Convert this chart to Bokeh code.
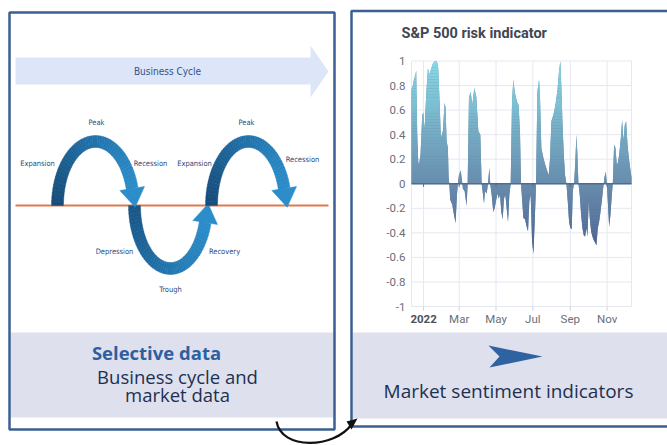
import math
import numpy as np
from bokeh.plotting import figure
from bokeh.models import Range1d
from bokeh.core.properties import value
from bokeh.embed import file_html
from bokeh.resources import INLINE

# ---------------- data: S&P 500 risk indicator ----------------
# day offset from 2022-01-01
day_offset = [-20, -17.7, -16, -14, -12.2, -10.5, -8.8, -7.7, -5, -2.2, -0.5, 1.7, 4.4, 7.2, 10, 12.2,
              15.5, 18.8, 22.1, 24.3, 26.5, 28.7, 32, 34.8, 36.5, 38.1, 40.3, 41.5, 42.6, 44.2, 47.5,
              50.3, 53, 55.3, 56.9, 58.6, 61.4, 63, 65.2, 68, 71.3, 73, 75.2, 78, 80.7, 84, 87.3, 90.7,
              94, 96.2, 97.3, 100.1, 101.7, 104.5, 106.7, 108.9, 110.6, 112.8, 115.5, 117.7, 120,
              122.2, 124.4, 126.6, 128.8, 131, 133.2, 135.4, 137.6, 139.9, 142.1, 144.3, 146.5, 148.7,
              150.9, 153.1, 155.3, 157.5, 159.8, 161.4, 163.1, 165.3, 168, 170.8, 173, 175.2, 177.4,
              179.7, 181.9, 184.1, 186.3, 188.5, 191.3, 192.9, 195.1, 198.5, 201.8, 205.1, 207.3,
              209.5, 211.7, 215, 218.4, 221.7, 224.4, 226.6, 228.3, 230, 232.2, 234.4, 236.6, 238.8,
              241, 243.2, 245.4, 247.1, 249.3, 251, 253.2, 254.8, 256.5, 258.7, 260.9, 263.1, 265.3,
              267.5, 269.8, 271.4, 273.6, 275.3, 277.5, 279.7, 281.9, 284.1, 286.3, 288.6, 290.8,
              293, 295.2, 297.4, 299.6, 301.8, 303.5, 305.1, 307.4, 309.6, 311.8, 313.4, 315.6,
              317.9, 320.1, 322.3, 324.5, 326.7, 328.9, 331.1, 333.3, 335.5, 337.8, 340, 342.2, 344.4]
risk = [0.77, 0.80, 0.85, 0.88, 0.92, 0.40, 0.18, 0.15, 0.24, 0.56, 0.58, 0.44, 0.73, 0.94, 0.89, 0.93,
        0.98, 1.00, 1.00, 0.94, 0.67, 0.37, 0.43, 0.66, 0.62, 0.35, 0.29, 0.05, 0.0, -0.13, -0.17,
        -0.25, -0.32, -0.09, 0.0, 0.07, 0.11, 0.05, -0.04, -0.06, -0.18, 0.0, 0.70, 0.75, 0.64, 0.78, 0.71, 0.43,
        0.40, 0.0, -0.04, -0.16, -0.06, -0.08, 0.0, 0.13, -0.01, -0.09, -0.23, -0.20, -0.14,
        -0.08, -0.12, -0.09, -0.23, -0.29, -0.12, -0.09, -0.20, -0.31, -0.09, 0.0, 0.67, 0.85,
        0.75, 0.70, 0.66, 0.64, 0.40, 0.0, -0.12, -0.28, -0.29, -0.35, -0.39, -0.14, -0.09,
        -0.47, -0.57, -0.31, 0.0, 0.75, 0.85, 0.70, 0.29, 0.21, 0.15, 0.10, 0.07,
        0.21, 0.51, 0.56, 0.64, 0.76, 0.92, 1.0, 0.78, 0.51, 0.24, 0.07, 0.0, -0.14,
        -0.31, -0.36, -0.37, -0.06, 0.0, 0.15, 0.40, 0.24, 0.0, -0.09, -0.25, -0.36, -0.42,
        -0.43, -0.36, -0.43, -0.14, -0.28, -0.39, -0.43, -0.46, -0.48, -0.50, -0.36, -0.31,
        -0.23, -0.14, -0.04, 0.05, 0.10, 0.0, -0.14, -0.35, -0.25, -0.09, 0.0, 0.32,
        0.29, 0.15, 0.18, 0.26, 0.37, 0.52, 0.35, 0.48, 0.51, 0.32, 0.21, 0.13, 0.05]

month_days = [0, 59, 120, 181, 243, 304]
month_labels = ["2022", "Mar", "May", "Jul", "Sep", "Nov"]
y_ticks = [1, 0.8, 0.6, 0.4, 0.2, 0, -0.2, -0.4, -0.6, -0.8, -1]
y_tick_labels = ["1", "0.8", "0.6", "0.4", "0.2", "0", "-0.2", "-0.4", "-0.6", "-0.8", "-1"]

chart_title = "S&P 500 risk indicator"

# ---------------- texts of the infographic ----------------
cycle_banner = "Business Cycle"
cycle_words = ["Peak", "Expansion", "Recession", "Expansion", "Peak", "Recession", "Depression", "Recovery", "Trough"]
cycle_word_x = [96, 37, 150, 194, 246, 302, 114, 224, 170]
cycle_word_y = [122, 163, 163, 163, 122, 159, 251, 251, 289]

left_heading = "Selective data"
left_lines = ["Business cycle and", "market data"]
right_line = "Market sentiment indicators"

# ---------------- canvas (screen-pixel coordinates) ----------------
W, H = 667, 445
X0, X1 = 0, W
Y0, Y1 = 0, H
p = figure(width=W, height=H, x_range=Range1d(X0, X1), y_range=Range1d(Y1, Y0),
           x_axis_type=None, y_axis_type=None, toolbar_location=None,
           output_backend="svg", min_border=0, outline_line_color=None,
           background_fill_color="white", border_fill_color="white")
for g in p.grid:
    g.visible = False

# chart box placement on the canvas
BX0, BX1 = 411.0, 631.0
BY_TOP, BY_BOT = 60.5, 306.0
d0, d1 = day_offset[0], day_offset[-1]
sx = (BX1 - BX0) / (d1 - d0)
sy = (BY_BOT - BY_TOP) / 2.0
p.extra_x_ranges = {"day": Range1d(d0 - (BX0 - X0) / sx, d1 + (X1 - BX1) / sx)}
p.extra_y_ranges = {"risk": Range1d(-1 - (Y1 - BY_BOT) / sy, 1 + (BY_TOP - Y0) / sy)}
CR = dict(x_range_name="day", y_range_name="risk")

NARROW = value("DejaVu Sans Condensed")


def hexc(c):
    return "#%02x%02x%02x" % tuple(int(round(v)) for v in c)


def lerp(c0, c1, t):
    t = min(max(t, 0.0), 1.0)
    return tuple(a + (b - a) * t for a, b in zip(c0, c1))


# ---------------- panels ----------------
LAV = "#dfe0ee"
p.quad(left=[10], right=[333], top=[332], bottom=[417], fill_color=LAV, line_color=None)
p.quad(left=[352], right=[670], top=[332], bottom=[418], fill_color=LAV, line_color=None)

BORDER = "#3b5f93"
p.quad(left=[9], right=[334], top=[12], bottom=[429], fill_color=None, line_color=BORDER, line_width=2.5)
p.quad(left=[351], right=[680], top=[10.5], bottom=[426], fill_color=None, line_color=BORDER, line_width=2.5)

# ---------------- business cycle diagram ----------------
p.patch(x=[15, 310, 310, 328, 310, 310, 15], y=[57, 57, 45, 71, 97, 84, 84],
        fill_color="#dce6f8", line_color=None)
p.text(x=[167], y=[71], text=[cycle_banner], text_align="center", text_baseline="middle",
       text_font=NARROW, text_font_size="10px", text_color="#34508a")

p.line(x=[15, 328], y=[205, 205], line_color="#e07a4e", line_width=2)


def arch(cx, cy, rx, ry, h, sign, s_end, cols, n=48):
    xs, ys, fc = [], [], []

    def pt(s, off):
        return (cx - (rx + off) * math.cos(s), cy + sign * (ry + off) * math.sin(s))

    for k in range(n):
        sa = s_end * k / n
        sb = s_end * (k + 1) / n + 0.004
        a1, a2 = pt(sa, h), pt(sb, h)
        b2, b1 = pt(sb, -h), pt(sa, -h)
        xs.append([a1[0], a2[0], b2[0], b1[0]])
        ys.append([a1[1], a2[1], b2[1], b1[1]])
        t = (k + 0.5) / n
        c = lerp(cols[0], cols[1], t * 2) if t < 0.5 else lerp(cols[1], cols[2], t * 2 - 1)
        fc.append(hexc(c))
    p.patches(xs=xs, ys=ys, fill_color=fc, line_color=fc, line_width=0.4)
    # arrow head
    ex, ey = pt(s_end, 0)
    dx, dy = rx * math.sin(s_end), sign * ry * math.cos(s_end)
    L = math.hypot(dx, dy)
    dx, dy = dx / L, dy / L
    px_, py_ = -dy, dx
    hw, hl = 12.5, 19
    p.patch(x=[ex + px_ * hw, ex + dx * hl, ex - px_ * hw],
            y=[ey + py_ * hw, ey + dy * hl, ey - py_ * hw],
            fill_color=hexc(cols[2]), line_color=hexc(cols[2]), line_width=0.5)


DARK = (24, 76, 120)
MID = (32, 112, 168)
LIGHT = (44, 141, 202)
arch(170, 205, 36, 63, 6, +1, math.pi - math.asin(17 / 63), [(26, 86, 134), (33, 116, 172), LIGHT])
arch(95, 205, 38, 64, 6, -1, math.pi - math.asin(17 / 64), [DARK, MID, LIGHT])
arch(248, 205, 37, 64, 6, -1, math.pi - math.asin(17 / 64), [DARK, MID, LIGHT])

p.text(x=cycle_word_x, y=cycle_word_y, text=cycle_words, text_align="center", text_baseline="middle",
       text_font=NARROW, text_font_size="7.5px", text_color="#2d4a7a")

# bottom texts
p.text(x=[156], y=[352], text=[left_heading], text_align="center", text_baseline="middle",
       text_font=value("Open Sans"), text_font_style="bold", text_font_size="18.5px", text_color="#2e609f")
p.text(x=[177, 177], y=[376, 394], text=left_lines, text_align="center", text_baseline="middle",
       text_font=value("Open Sans"), text_font_size="18.5px", text_color="#1d3050")
p.text(x=[508], y=[390], text=[right_line], text_align="center", text_baseline="middle",
       text_font=value("Open Sans"), text_font_size="19px", text_color="#1d3050")

# blue dart
p.patch(x=[488, 542, 489, 499], y=[345, 356, 367, 356], fill_color="#2e62a0", line_color=None)

# curved connector arrow
p.bezier(x0=[276], y0=[421], x1=[351], y1=[424], cx0=[281], cy0=[450], cx1=[334], cy1=[448],
         line_color="#111111", line_width=2.2)
p.patch(x=[346, 357, 351], y=[421, 418, 429], fill_color="#111111", line_color=None)

# ---------------- S&P 500 risk indicator chart ----------------
p.text(x=[401], y=[33], text=[chart_title], text_align="left", text_baseline="middle",
       text_font=value("Roboto"), text_font_style="bold", text_font_size="14.5px", text_color="#3f4654")

GRID = "#e6e8f1"
n_y = len(y_ticks)
p.segment(x0=[d0] * n_y, x1=[d1] * n_y, y0=y_ticks, y1=y_ticks, line_color=GRID, line_width=1, **CR)
vx = [d0] + month_days + [d1]
p.segment(x0=vx, x1=vx, y0=[-1] * len(vx), y1=[1] * len(vx), line_color=GRID, line_width=1, **CR)
p.segment(x0=month_days, x1=month_days, y0=[-1] * 6, y1=[-1.035] * 6, line_color="#cfd3de", line_width=1, **CR)

x = np.array(day_offset, dtype=float)
v = np.array(risk, dtype=float)

ZERO_C = (104, 140, 172)
TOP_C = (135, 218, 231)
NEG_C = (74, 92, 142)

p.varea(x=x, y1=np.zeros_like(v), y2=v, fill_color=hexc(ZERO_C), **CR)


def with_crossings(xa, va, levels):
    xs, vs = [xa[0]], [va[0]]
    for i in range(len(xa) - 1):
        xa0, xa1, va0, va1 = xa[i], xa[i + 1], va[i], va[i + 1]
        cr = []
        for L in levels:
            if (va0 - L) * (va1 - L) < 0:
                t = (L - va0) / (va1 - va0)
                cr.append((xa0 + t * (xa1 - xa0), L))
        cr.sort()
        for cx_, cv_ in cr:
            xs.append(cx_)
            vs.append(cv_)
        xs.append(xa1)
        vs.append(va1)
    return np.array(xs), np.array(vs)


step = 0.025
vmax = float(v.max())
vmin = float(v.min())
a = 0.0
while a < vmax:
    b = a + step
    xb, vb = with_crossings(x, v, [a, b])
    y2 = np.clip(vb, a, b)
    col = hexc(lerp(ZERO_C, TOP_C, (a + step / 2)))
    p.varea(x=xb, y1=np.full_like(y2, a), y2=y2, fill_color=col, **CR)
    a = b
b = 0.0
while b > vmin:
    a = b - step
    xb, vb = with_crossings(x, v, [a, b])
    y2 = np.clip(vb, a, b)
    col = hexc(lerp(ZERO_C, NEG_C, (-(b - step / 2)) / 0.6))
    p.varea(x=xb, y1=np.full_like(y2, b), y2=y2, fill_color=col, **CR)
    b = a

p.segment(x0=[d0], x1=[d1], y0=[0], y1=[0], line_color="#55698b", line_width=1.3, **CR)
p.segment(x0=month_days, x1=month_days, y0=[0] * 6, y1=[-0.025] * 6, line_color="#55698b", line_width=1, **CR)

# tick labels
p.text(x=[405] * n_y, y=y_ticks, text=y_tick_labels, text_align="right", text_baseline="middle",
       text_font=value("Roboto"), text_font_size="11.5px", text_color="#6b6f78", y_range_name="risk")
p.text(x=month_days[:1], y=[318], text=month_labels[:1], text_align="center", text_baseline="middle",
       text_font=value("Roboto"), text_font_style="bold", text_font_size="11.5px", text_color="#4d515b",
       x_range_name="day")
p.text(x=month_days[1:], y=[318] * 5, text=month_labels[1:], text_align="center", text_baseline="middle",
       text_font=value("Roboto"), text_font_size="11.5px", text_color="#6b6f78", x_range_name="day")

open("out.html", "w").write(file_html(p, INLINE))
